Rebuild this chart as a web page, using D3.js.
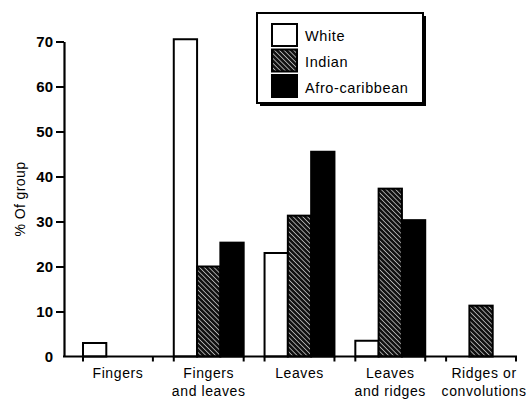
<!DOCTYPE html>
<html>
<head>
<meta charset="utf-8">
<script src="https://cdn.jsdelivr.net/npm/d3@7"></script>
<style>
  body { margin: 0; background: #fff; }
  svg { display: block; }
  text { font-family: "Liberation Sans", Arial, Helvetica, sans-serif; fill: #000; }
</style>
</head>
<body>
<div id="chart"></div>
<script>
var width = 529, height = 400;

// data
var categories = ["Fingers", "Fingers and leaves", "Leaves", "Leaves and ridges", "Ridges or convolutions"];
var catLines = [["Fingers"], ["Fingers", "and leaves"], ["Leaves"], ["Leaves", "and ridges"], ["Ridges or", "convolutions"]];
var groups = ["White", "Indian", "Afro-caribbean"];
var legendLabels = ["White", "Indian", "Afro-caribbean"];
var white = [3, 70.5, 23, 3.5, 0];
var indian = [0, 20, 31.3, 37.3, 11.3];
var afro = [0, 25.3, 45.5, 30.3, 0];
var yTicks = [0, 10, 20, 30, 40, 50, 60, 70];

var series = [white, indian, afro];

var svg = d3.select("#chart")
  .append("svg")
  .attr("width", width)
  .attr("height", height);

var defs = svg.append("defs");
var pat = defs.append("pattern")
  .attr("id", "hatch")
  .attr("patternUnits", "userSpaceOnUse")
  .attr("width", 3.4)
  .attr("height", 3.4)
  .attr("patternTransform", "rotate(45)");
pat.append("rect").attr("width", 3.4).attr("height", 3.4).attr("fill", "#111");
pat.append("rect").attr("x", 0).attr("y", 0).attr("width", 3.4).attr("height", 0.7).attr("fill", "#d8d8d8");

var fills = { "White": "#fff", "Indian": "url(#hatch)", "Afro-caribbean": "#000" };

var y = d3.scaleLinear()
  .domain([0, 70])
  .range([356.5, 41.5]);

var x0 = d3.scaleBand()
  .domain(categories)
  .range([83, 516])
  .paddingInner(0.23)
  .paddingOuter(0);

var x1 = d3.scaleBand()
  .domain(groups)
  .range([0, x0.bandwidth()])
  .padding(0);

var axisLeftX = 64;

// bars
var g = svg.append("g");
categories.forEach(function(cat, ci) {
  groups.forEach(function(grp, gi) {
    var v = series[gi][ci];
    if (v <= 0) return;
    g.append("rect")
      .attr("x", x0(cat) + x1(grp))
      .attr("y", y(v))
      .attr("width", x1.bandwidth())
      .attr("height", y(0) - y(v))
      .attr("fill", fills[grp])
      .attr("stroke", "#000")
      .attr("stroke-width", 2);
  });
});

// y axis
var yAxis = svg.append("g")
  .attr("transform", "translate(" + axisLeftX + ",0)")
  .call(d3.axisLeft(y).tickValues(yTicks).tickSize(8).tickPadding(3).tickSizeOuter(0));
yAxis.select(".domain").attr("stroke", "#000").attr("stroke-width", 2.2);
yAxis.selectAll(".tick line").attr("stroke", "#000").attr("stroke-width", 2)
  .attr("display", function(d) { return d === 0 ? "none" : null; });
yAxis.selectAll(".tick text")
  .style("font-size", "15px")
  .style("font-weight", "bold")
  .attr("dy", "0.36em");

// x axis line
svg.append("line")
  .attr("x1", axisLeftX - 1)
  .attr("x2", x0.range()[1] + 1)
  .attr("y1", y(0))
  .attr("y2", y(0))
  .attr("stroke", "#000")
  .attr("stroke-width", 2.2);

// group edge ticks
categories.forEach(function(cat) {
  [x0(cat), x0(cat) + x0.bandwidth()].forEach(function(px) {
    svg.append("line")
      .attr("x1", px).attr("x2", px)
      .attr("y1", y(0)).attr("y2", y(0) + 5)
      .attr("stroke", "#000")
      .attr("stroke-width", 2);
  });
});

// category labels
categories.forEach(function(cat, ci) {
  var t = svg.append("text")
    .attr("x", x0(cat) + x0.bandwidth() / 2)
    .attr("y", 378)
    .attr("text-anchor", "middle")
    .style("font-size", "14px")
    .style("letter-spacing", "0.6px");
  catLines[ci].forEach(function(line, li) {
    t.append("tspan")
      .attr("x", x0(cat) + x0.bandwidth() / 2 + (ci === 4 ? 3 : 0))
      .attr("dy", li === 0 ? 0 : 18)
      .text(line);
  });
});

// y label
svg.append("text")
  .attr("transform", "translate(25," + y(35) + ") rotate(-90)")
  .attr("text-anchor", "middle")
  .style("font-size", "14px")
  .style("letter-spacing", "0.4px")
  .text("% Of group");

// legend
var leg = svg.append("g").attr("transform", "translate(257,13)");
leg.append("rect")
  .attr("x", 3).attr("y", 3)
  .attr("width", 166).attr("height", 90)
  .attr("fill", "#000");
leg.append("rect")
  .attr("x", 0).attr("y", 0)
  .attr("width", 166).attr("height", 90)
  .attr("fill", "#fff")
  .attr("stroke", "#000")
  .attr("stroke-width", 2);
legendLabels.forEach(function(lab, i) {
  leg.append("rect")
    .attr("x", 15)
    .attr("y", 11 + i * 25.5)
    .attr("width", 25)
    .attr("height", 22)
    .attr("fill", fills[groups[i]])
    .attr("stroke", "#000")
    .attr("stroke-width", 2);
  leg.append("text")
    .attr("x", 48)
    .attr("y", 22.5 + i * 26)
    .attr("dy", "0.35em")
    .style("font-size", "14.5px")
    .style("letter-spacing", "0.6px")
    .text(lab);
});
</script>
</body>
</html>
